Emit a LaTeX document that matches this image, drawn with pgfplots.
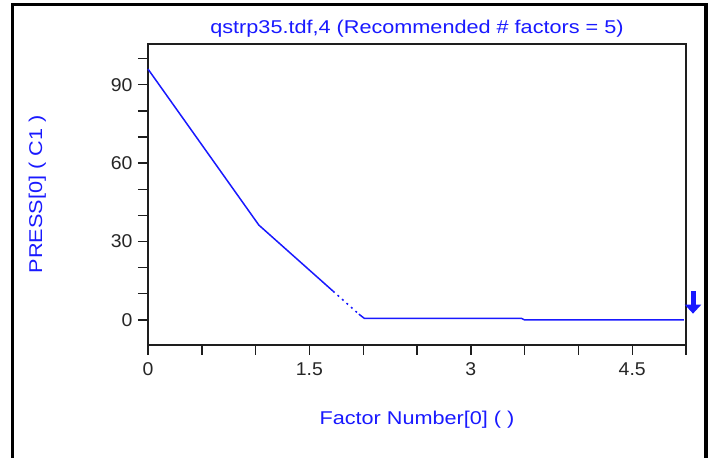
\documentclass[border=0pt]{standalone}
\usepackage{fontspec}
\setmainfont{Liberation Sans}[FakeStretch=1.17]
\newfontfamily\tickfont{Liberation Sans}[FakeStretch=1.05]
\usepackage{pgfplots}
\pgfplotsset{compat=1.18}
\usetikzlibrary{arrows.meta}
\definecolor{lblue}{RGB}{25,25,255}
\definecolor{axgray}{RGB}{30,30,30}
\begin{document}
\begin{tikzpicture}[x=1bp,y=1bp]
\useasboundingbox (0,0) rectangle (712,458);
\begin{scope}
\clip (0,0) rectangle (712,458);
\fill[white] (0,0) rectangle (712,458);
\draw[line width=3.5bp] (12.5,-20) -- (12.5,453.5) -- (706,453.5) -- (706,-20);
\end{scope}
\begin{axis}[
  at={(148bp,113bp)}, anchor=south west,
  scale only axis, width=538bp, height=301bp,
  xmin=0, xmax=5, ymin=-9.6, ymax=105.6,
  xtick={0,1.5,3,4.5}, minor xtick={0.5,1,2,2.5,3.5,4,5},
  ytick={0,30,60,90}, minor ytick={10,20,40,50,70,80,100},
  xticklabels={0,1.5,3,4.5},
  yticklabels={0,30,60,90},
  tick pos=left, tick align=outside,
  major tick length=10bp, minor tick length=10bp,
  every tick/.style={axgray, line width=1.4bp},
  axis line style={axgray, line width=1.6bp},
  ticklabel style={font=\tickfont\fontsize{18.5bp}{20bp}\selectfont, text=black!85},
  xticklabel style={yshift=-4bp},
  yticklabel style={xshift=-2bp},
  title={qstrp35.tdf,4 (Recommended \# factors = 5)},
  title style={at={(axis description cs:0.5,1)}, anchor=base, yshift=5bp,
    font=\fontsize{18.5bp}{20bp}\selectfont, text=lblue},
  xlabel={Factor Number[0] ( )},
  xlabel style={at={(axis description cs:0.5,0)}, anchor=base, yshift=-80bp,
    font=\fontsize{18.5bp}{20bp}\selectfont, text=lblue},
  ylabel={PRESS[0] ( C1 )},
  ylabel style={at={(axis description cs:-0.197,0.5)}, anchor=base,
    font=\fontsize{18.5bp}{20bp}\selectfont, text=lblue},
  clip=false,
]
\addplot[lblue, line width=1.5bp] coordinates {
  (0,96) (1.03,36.3) (1.72,11.0)
};
\addplot[lblue, line width=1.5bp, dash pattern=on 2bp off 4bp] coordinates {
  (1.72,11.0) (1.96,2.2)
};
\addplot[lblue, line width=1.5bp] coordinates {
  (1.96,2.2) (2.01,0.6) (3.47,0.6) (3.5,0.0) (4.98,0.0)
};
\draw[lblue, line width=5bp, -{Triangle[width=16bp,length=9bp]}]
  (axis cs:5.065,11) -- (axis cs:5.065,2.4);
\end{axis}
\end{tikzpicture}
\end{document}
